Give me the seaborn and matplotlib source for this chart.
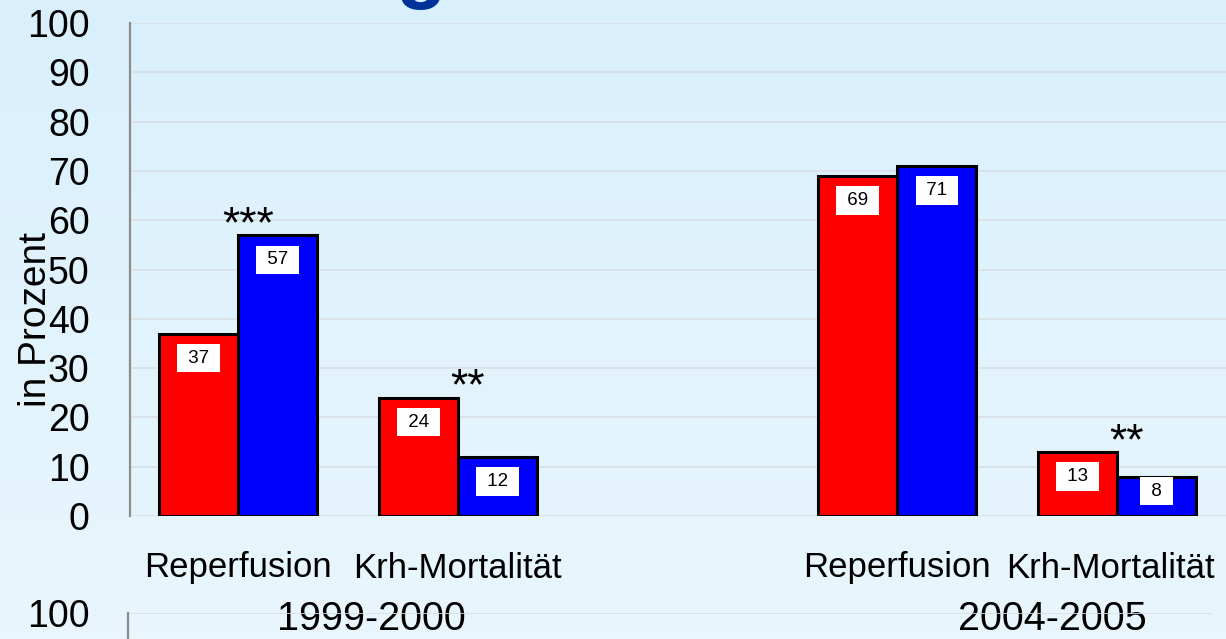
import numpy as np
import pandas as pd
import matplotlib
matplotlib.use("Agg")
import matplotlib.pyplot as plt
import matplotlib.transforms as mtransforms
import seaborn as sns

# data
perioden = ["1999-2000", "1999-2000", "2004-2005", "2004-2005"]
messgroessen = ["Reperfusion", "Krh-Mortalität", "Reperfusion", "Krh-Mortalität"]
rot_werte = [37, 24, 69, 13]
blau_werte = [57, 12, 71, 8]
signifikanz = ["***", "**", "", "**"]
yticks = list(range(0, 101, 10))

kategorien = [m + " " + p for m, p in zip(messgroessen, perioden)]
reihenfolge = kategorien[:2] + [" "] + kategorien[2:]

df = pd.DataFrame({
    "kategorie": kategorien * 2,
    "gruppe": ["rot"] * 4 + ["blau"] * 4,
    "prozent": rot_werte + blau_werte,
})

sns.set_theme(style="white")
plt.rcParams["font.family"] = ["Liberation Sans", "DejaVu Sans"]

W, H = 1226, 639
fig = plt.figure(figsize=(W / 100, H / 100), dpi=100)

# light blue gradient background
bg = fig.add_axes([0, 0, 1, 1], zorder=-10)
grad = np.linspace(0, 1, 256).reshape(-1, 1)
top = np.array([0.851, 0.941, 0.992])
bot = np.array([0.914, 0.965, 0.992])
img = top + (bot - top) * grad[..., None]
bg.imshow(img, aspect="auto", extent=[0, 1, 0, 1])
bg.set_axis_off()

# bottom of a cut-off title glyph
fig.text(421 / W, 1 + 7 / H, "g", ha="center", va="baseline", fontsize=60,
         fontweight="bold", color="#003399")

ax = fig.add_axes([130 / W, 123 / H, 1096 / W, 493 / H])
ax.set_facecolor("none")

sns.barplot(data=df, x="kategorie", y="prozent", hue="gruppe", order=reihenfolge,
            hue_order=["rot", "blau"], palette={"rot": "#ff0000", "blau": "#0000ff"},
            saturation=1, edgecolor="black", linewidth=2.2, width=0.72,
            errorbar=None, legend=False, ax=ax)

ax.set_ylim(0, 100)
ax.set_xlim(-0.492, 4.496)
ax.set_yticks(yticks)
ax.tick_params(axis="y", length=0, pad=29, labelsize=27, labelcolor="black")
ax.grid(axis="y", color="#d9dfe4", linewidth=1.2)
ax.set_axisbelow(True)
for s in ["top", "right", "bottom"]:
    ax.spines[s].set_visible(False)
ax.spines["left"].set_color("#8c8c8c")
ax.spines["left"].set_linewidth(1.6)

ax.set_xlabel("")
ax.set_xticks([])
ax.set_ylabel("in Prozent", fontsize=28, color="black")
ax.yaxis.set_label_coords(-0.069, 0.398)

# value boxes inside the bars
for cont in ax.containers:
    for bar in cont:
        h = bar.get_height()
        if np.isnan(h):
            continue
        x = bar.get_x() + bar.get_width() / 2
        ax.text(x, max(h - 5, 5), f" {h:.0f} ", ha="center", va="center",
                fontsize=13.5, color="black", zorder=5,
                bbox=dict(boxstyle="square,pad=0.3", fc="white", ec="none"))

# significance stars
positionen = [reihenfolge.index(k) for k in kategorien]
for pos, r, b, stern in zip(positionen, rot_werte, blau_werte, signifikanz):
    if stern:
        ax.text(pos + 0.045, max(r, b) - 0.4, stern, ha="center", va="baseline",
                fontsize=32, color="black")

# category and period labels below the axis
trans = mtransforms.blended_transform_factory(ax.transData, fig.transFigure)
kat_versatz = [0, 0, 0, -0.03]
for pos, m, dx in zip(positionen, messgroessen, kat_versatz):
    ax.text(pos + dx, (H - 568) / H, m, transform=trans, ha="center",
            va="center", fontsize=25, color="black")

jahr_pos = [0.608, 3.704]
for p, jx in zip(["1999-2000", "2004-2005"], jahr_pos):
    ax.text(jx, (H - 619) / H, p, transform=trans, ha="center", va="center",
            fontsize=28.5, color="black", zorder=5)

# top of the next chart, cut off by the slide edge
ax2 = fig.add_axes([128 / W, (26 - 493) / H, 1085 / W, 493 / H])
ax2.set_facecolor("none")
ax2.set_ylim(0, 100)
ax2.set_xlim(0, 1)
ax2.set_yticks(yticks)
ax2.set_xticks([])
ax2.tick_params(axis="y", length=0, pad=27.5, labelsize=27, labelcolor="black")
ax2.grid(axis="y", color="#d9dfe4", linewidth=1.2)
for s in ["top", "right", "bottom"]:
    ax2.spines[s].set_visible(False)
ax2.spines["left"].set_color("#8c8c8c")
ax2.spines["left"].set_linewidth(1.6)

fig.savefig("out.png", dpi=100)
